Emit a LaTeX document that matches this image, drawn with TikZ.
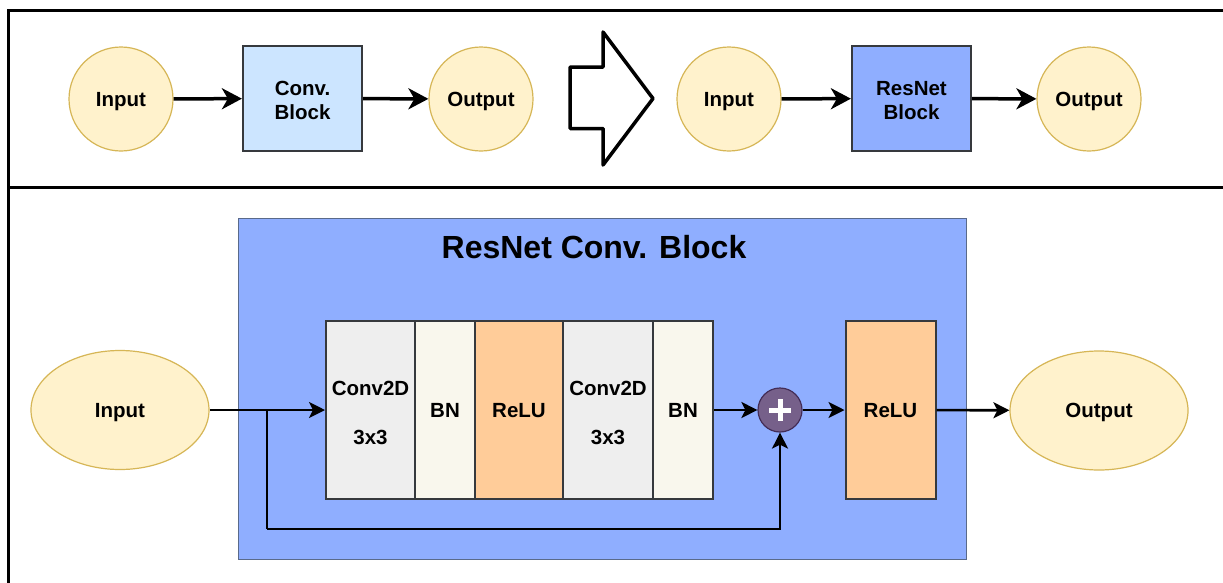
\documentclass[tikz,border=0pt]{standalone}
\usepackage{fontspec}
\setmainfont{Liberation Sans}
\usetikzlibrary{arrows.meta,shapes.geometric}
\definecolor{ioFill}{HTML}{FFF2CC}
\definecolor{ioDraw}{HTML}{D6B656}
\definecolor{blkDraw}{HTML}{36393D}
\definecolor{convFill}{HTML}{CCE5FF}
\definecolor{resFill}{HTML}{8FAEFF}
\definecolor{layerGrey}{HTML}{EEEEEE}
\definecolor{bnFill}{HTML}{F9F7ED}
\definecolor{reluFill}{HTML}{FFCC99}
\definecolor{plusFill}{HTML}{76608A}
\definecolor{plusDraw}{HTML}{432D57}
\definecolor{outerDraw}{HTML}{5A6A8A}
\tikzset{
  lbl/.style={font=\fontsize{20.5}{24}\selectfont\bfseries, text=black, text height=14.7pt, text depth=0pt},
  twoline/.style={text height=42.7pt, text depth=0pt},
  twolinewide/.style={text height=68.7pt, text depth=0pt},
  iocirc/.style={circle, fill=ioFill, draw=ioDraw, line width=1.2pt, minimum size=104pt, inner sep=0pt, lbl},
  ioell/.style={ellipse, fill=ioFill, draw=ioDraw, line width=1.2pt, minimum width=178pt, minimum height=119pt, inner sep=0pt, lbl},
  topblk/.style={rectangle, draw=blkDraw, line width=2.2pt, minimum width=119pt, minimum height=105pt, inner sep=0pt, align=center, lbl, twoline},
  layer/.style={rectangle, draw=blkDraw, line width=2pt, minimum height=178pt, inner sep=0pt, align=center, lbl},
  toparrow/.style={line width=3.5pt, -{Stealth[length=20pt, width=21pt, inset=6pt]}},
  botarrow/.style={line width=2.6pt, -{Stealth[length=16pt, width=16pt, inset=4pt]}},
  botline/.style={line width=2.6pt},
  frameline/.style={line width=3pt, line cap=rect}
}
\begin{document}
\begin{tikzpicture}[x=1pt,y=-1pt]
\useasboundingbox (0,0) rectangle (1223,582);
\fill[white] (0,0) rectangle (1223,582);
% frame
\draw[frameline] (8,10) -- (1240,10);
\draw[frameline] (8,10) -- (8,600);
\draw[frameline] (8,187) -- (1240,187);

% top row
\node[iocirc] (tin) at (121,99) {Input};
\node[topblk, fill=convFill] (tconv) at (302.5,98.5) {Conv.\\Block};
\node[iocirc] (tout) at (481,99) {Output};
\draw[toparrow] (tin) -- (tconv);
\draw[toparrow] (tconv) -- (tout);

\draw[line width=3.5pt, line join=round] (570,67) -- (603,67) -- (603,32) -- (653,98.5) -- (603,165) -- (603,128.5) -- (570,128.5) -- cycle;

\node[iocirc] (rin) at (729,99) {Input};
\node[topblk, fill=resFill] (rblk) at (911.5,98.5) {ResNet\\Block};
\node[iocirc] (rout) at (1089,99) {Output};
\draw[toparrow] (rin) -- (rblk);
\draw[toparrow] (rblk) -- (rout);

% bottom
\node[rectangle, fill=resFill, draw=outerDraw, line width=1pt, minimum width=728pt, minimum height=341pt, inner sep=0pt] (big) at (602,388.5) {};
\node[font=\fontsize{32}{36}\selectfont\bfseries] (title) at (594,247) {ResNet Conv. Block};

\node[layer, twolinewide, fill=layerGrey, minimum width=89pt] (c1) at (370.5,410) {Conv2D\\[25pt]3x3};
\node[layer, fill=bnFill, minimum width=60pt] (b1) at (445,410) {BN};
\node[layer, fill=reluFill, minimum width=88pt] (r1) at (519,410) {ReLU};
\node[layer, twolinewide, fill=layerGrey, minimum width=90pt] (c2) at (608,410) {Conv2D\\[25pt]3x3};
\node[layer, fill=bnFill, minimum width=60pt] (b2) at (683,410) {BN};

\node[circle, fill=plusFill, draw=plusDraw, line width=1.2pt, minimum size=44pt, inner sep=0pt] (plus) at (780,410) {};
\fill[white] ([xshift=-11pt,yshift=-2.5pt]plus.center) rectangle ([xshift=11pt,yshift=2.5pt]plus.center);
\fill[white] ([xshift=-2.5pt,yshift=-11pt]plus.center) rectangle ([xshift=2.5pt,yshift=11pt]plus.center);

\node[layer, fill=reluFill, minimum width=90pt] (r2) at (890.5,410) {ReLU};

\node[ioell] (bin) at (120,410) {Input};
\node[ioell] (bout) at (1099,410.5) {Output};

\coordinate (split) at (267,410);
\coordinate (low) at (267,529);
\draw[botarrow] (bin) -- (c1);
\draw[botline] (split) -- (low);
\draw[botarrow] (low) -| (plus);
\draw[botarrow] (b2) -- (plus);
\draw[botarrow] (plus) -- (r2);
\draw[botarrow] (r2) -- (bout);
\end{tikzpicture}
\end{document}
